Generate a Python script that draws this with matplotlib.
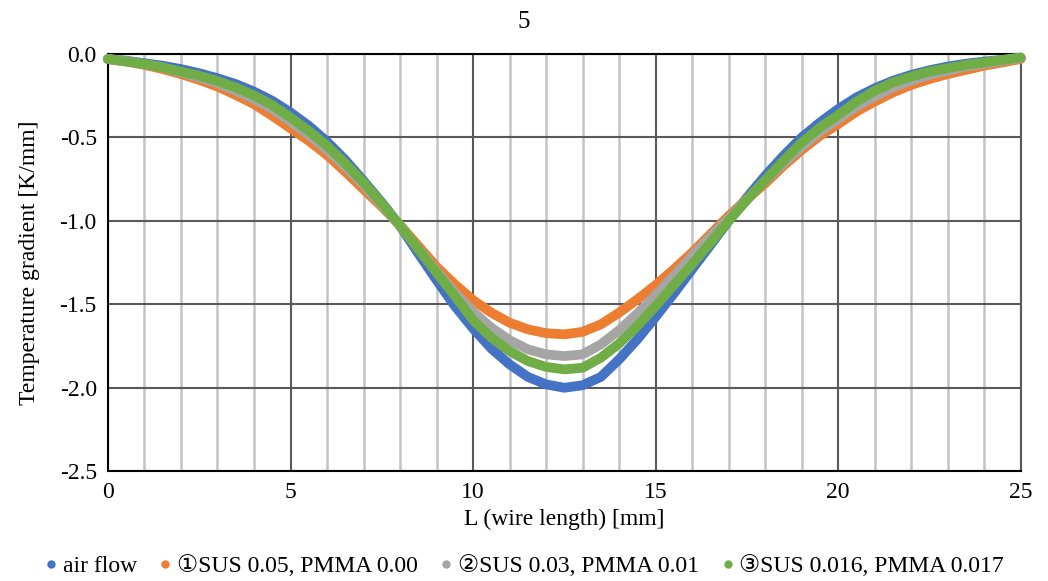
import numpy as np
import matplotlib
matplotlib.use('Agg')
import matplotlib.pyplot as plt
from matplotlib.ticker import MultipleLocator

plt.rcParams['font.family'] = ['Liberation Serif', 'DejaVu Sans', 'Noto Sans CJK JP']

# wire position [mm]
x = [0, 0.5, 1, 1.5, 2, 2.5, 3, 3.5, 4, 4.5, 5, 5.5, 6, 6.5, 7, 7.5, 8, 8.5, 9, 9.5,
     10, 10.5, 11, 11.5, 12, 12.5, 13, 13.5, 14, 14.5, 15, 15.5, 16, 16.5, 17, 17.5,
     18, 18.5, 19, 19.5, 20, 20.5, 21, 21.5, 22, 22.5, 23, 23.5, 24, 24.5, 25]

air_flow = [-0.03, -0.04, -0.055, -0.07, -0.09, -0.115, -0.145, -0.18, -0.225, -0.28,
            -0.35, -0.43, -0.525, -0.635, -0.76, -0.89, -1.03, -1.195, -1.355, -1.51,
            -1.645, -1.765, -1.86, -1.935, -1.98, -2.0, -1.985, -1.935, -1.83, -1.71,
            -1.575, -1.435, -1.29, -1.145, -1.0, -0.86, -0.73, -0.61, -0.5, -0.41,
            -0.33, -0.26, -0.205, -0.16, -0.125, -0.097, -0.075, -0.058, -0.045, -0.035, -0.025]

sus_005 = [-0.03, -0.045, -0.065, -0.09, -0.12, -0.155, -0.195, -0.245, -0.30, -0.37,
           -0.445, -0.52, -0.605, -0.705, -0.81, -0.915, -1.025, -1.15, -1.275, -1.38,
           -1.475, -1.55, -1.61, -1.65, -1.673, -1.68, -1.665, -1.62, -1.55, -1.47,
           -1.385, -1.29, -1.19, -1.08, -0.97, -0.87, -0.775, -0.67, -0.575, -0.49,
           -0.42, -0.345, -0.285, -0.23, -0.185, -0.15, -0.12, -0.095, -0.07, -0.05, -0.03]

sus_003 = [-0.03, -0.042, -0.06, -0.08, -0.11, -0.14, -0.175, -0.22, -0.27, -0.33,
           -0.405, -0.485, -0.575, -0.675, -0.785, -0.905, -1.03, -1.165, -1.3, -1.43,
           -1.545, -1.64, -1.715, -1.77, -1.8, -1.81, -1.8, -1.74, -1.655, -1.555,
           -1.445, -1.33, -1.21, -1.095, -0.985, -0.87, -0.76, -0.655, -0.555, -0.465,
           -0.39, -0.315, -0.255, -0.2, -0.16, -0.125, -0.1, -0.075, -0.058, -0.04, -0.025]

sus_0016 = [-0.03, -0.045, -0.06, -0.08, -0.105, -0.13, -0.162, -0.2, -0.248, -0.305,
            -0.38, -0.46, -0.55, -0.655, -0.77, -0.895, -1.03, -1.17, -1.31, -1.45,
            -1.595, -1.70, -1.78, -1.84, -1.875, -1.89, -1.88, -1.82, -1.735, -1.63,
            -1.51, -1.385, -1.26, -1.13, -1.0, -0.875, -0.755, -0.64, -0.53, -0.44,
            -0.365, -0.285, -0.22, -0.17, -0.135, -0.105, -0.085, -0.065, -0.05, -0.035, -0.02]

labels = ['air flow', '\u2460SUS 0.05, PMMA 0.00', '\u2461SUS 0.03, PMMA 0.01',
          '\u2462SUS 0.016, PMMA 0.017']
colors = ['#4472c4', '#ed7d31', '#a5a5a5', '#70ad47']

fig = plt.figure(figsize=(10.48, 5.81), dpi=100)
ax = fig.add_axes([0.103, 0.189, 0.871, 0.718])

for ys, c, lab in zip([air_flow, sus_005, sus_003, sus_0016], colors, labels):
    ax.plot(x, ys, color=c, lw=7, solid_capstyle='round', solid_joinstyle='round',
            zorder=3, clip_on=False)
    # legend proxy
    ax.plot([], [], 'o', color=c, ms=5, label=lab)

ax.set_xlim(0, 25)
ax.set_ylim(-2.5, 0)
ax.xaxis.set_major_locator(MultipleLocator(5))
ax.xaxis.set_minor_locator(MultipleLocator(1))
ax.yaxis.set_major_locator(MultipleLocator(0.5))
ax.yaxis.set_major_formatter(lambda v, p: f'{v:.1f}')

ax.grid(which='minor', axis='x', color='#c4c4c4', lw=1.8, zorder=0)
ax.grid(which='major', color='#595959', lw=1.5, zorder=1)
ax.tick_params(which='both', length=0, labelsize=17, pad=8)
for s in ax.spines.values():
    s.set_color('black')
    s.set_linewidth(1.5)
ax.spines['right'].set_color('#595959')

ax.set_xlabel('L (wire length) [mm]', fontsize=17, labelpad=4)
ax.set_ylabel('Temperature gradient [K/mm]', fontsize=17, labelpad=14)
fig.text(0.5, 0.962, '5', ha='center', va='center', fontsize=18)

fig.legend(loc='center', bbox_to_anchor=(0.5, 0.026), ncol=4, frameon=False,
           fontsize=17, handlelength=0.6, handletextpad=0.2, columnspacing=0.9,
           borderaxespad=0)

fig.savefig('out.png', dpi=100)
